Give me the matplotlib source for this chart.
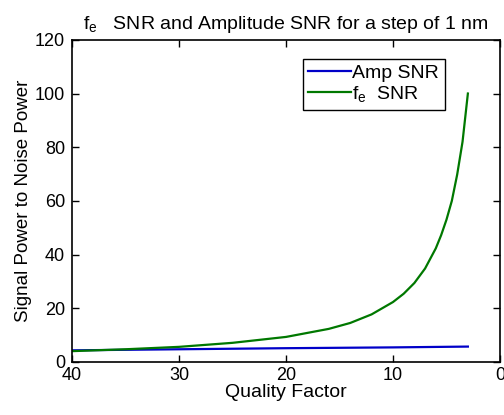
import numpy as np
import matplotlib.pyplot as plt

plt.rcParams['font.family'] = ['Liberation Sans', 'DejaVu Sans']
plt.rcParams['mathtext.fontset'] = 'custom'
plt.rcParams['mathtext.rm'] = 'Liberation Sans'

# values
q_fe = [40, 35, 30, 25, 20, 16, 14, 12, 10, 9, 8, 7, 6, 5.5, 5, 4.5, 4, 3.5, 3]
snr_fe = [4.0, 4.7, 5.6, 7.1, 9.3, 12.3, 14.5, 17.7, 22.3, 25.4, 29.4, 34.8,
          42.3, 47.2, 53.0, 60.0, 69.8, 82.0, 100.0]
q_amp = [40, 30, 20, 10, 3]
snr_amp = [4.3, 4.7, 5.1, 5.4, 5.7]

fig = plt.figure(figsize=(5.04, 4.15), dpi=100)
ax = fig.add_axes([0.143, 0.128, 0.849, 0.776])

ax.plot(q_amp, snr_amp, color='#0000c8', lw=1.6, label='Amp SNR')
ax.plot(q_fe, snr_fe, color='#007800', lw=1.6, label=r'$\mathregular{f_e}$  SNR')

ax.set_xlim(40, 0)
ax.set_ylim(0, 120)
ax.set_xticks([40, 30, 20, 10, 0])
ax.set_yticks(np.arange(0, 121, 20))
ax.tick_params(direction='in', top=True, right=True, labelsize=13, length=5, width=1)
ax.tick_params(axis='x', pad=4)
ax.tick_params(axis='y', pad=5)
for s in ax.spines.values():
    s.set_linewidth(1.2)

ax.set_xlabel('Quality Factor', fontsize=14, labelpad=0)
ax.set_ylabel('Signal Power to Noise Power', fontsize=13.5, labelpad=2)
ax.set_title(r'$\mathregular{f_e}$   SNR and Amplitude SNR for a step of 1 nm', fontsize=14, pad=8)

leg = ax.legend(loc='upper right', bbox_to_anchor=(0.871, 0.941), borderaxespad=0,
                fontsize=14, fancybox=False, framealpha=1, edgecolor='black',
                handlelength=2.2, handletextpad=0.05, borderpad=0.3, labelspacing=0.1)
leg.get_frame().set_linewidth(1.0)

fig.savefig('out.png', dpi=100)
